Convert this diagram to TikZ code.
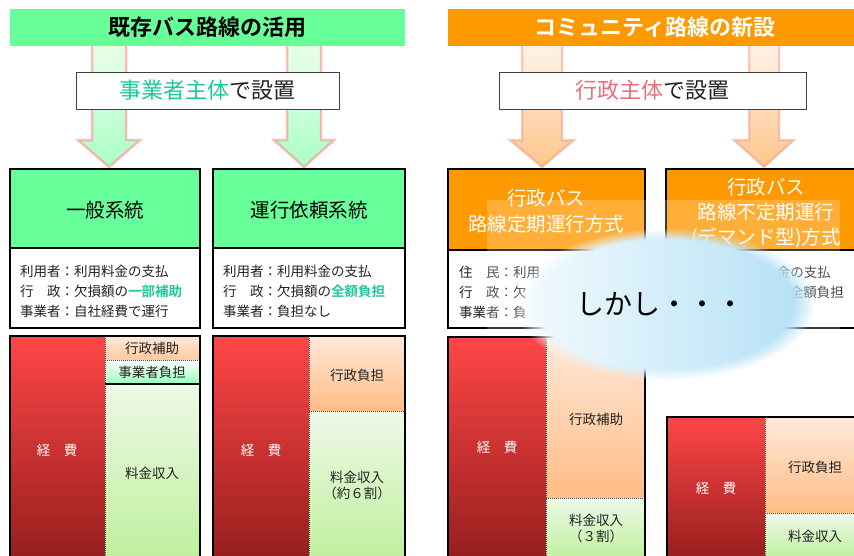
\documentclass[tikz,border=0pt]{standalone}
\usepackage{fontspec}
\setmainfont{Noto Sans CJK JP}[BoldFont={Noto Sans CJK JP Bold}]
\usetikzlibrary{fadings}
\definecolor{hdrgreen}{HTML}{66FF99}
\definecolor{hdrorange}{HTML}{FF9900}
\definecolor{tealtxt}{HTML}{1DC99A}
\definecolor{pinktxt}{HTML}{E8707A}
\definecolor{txtdark}{HTML}{222222}
\definecolor{redtop}{HTML}{FF4646}
\definecolor{redbot}{HTML}{961E1E}
\definecolor{peachtop}{HTML}{FFE9DA}
\definecolor{peachbot}{HTML}{FFBC84}
\definecolor{greentop}{HTML}{EEF9E8}
\definecolor{greenbot}{HTML}{BEF09C}
\definecolor{mintbot}{HTML}{99FFBB}
\definecolor{cloudA}{HTML}{F4FBFE}
\definecolor{cloudB}{HTML}{B2E0F6}
\newcommand\arrowshape[3]{(#1-#2,40) -- (#1-#2,140) -- (#1-#3,140) -- (#1,167) -- (#1+#3,140) -- (#1+#2,140) -- (#1+#2,40) -- cycle}
\begin{document}
\begin{tikzpicture}[x=1pt,y=-1pt,
  hdr/.style={inner sep=0pt, minimum height=37pt, font=\fontsize{22}{24}\selectfont},
  lblbox/.style={draw=black!75, line width=0.8pt, fill=white, minimum height=37pt, inner sep=0pt, font=\fontsize{22}{24}\selectfont, text=txtdark},
  boxtitle/.style={align=center, font=\fontsize{19.5}{26}\selectfont},
  bodyline/.style={anchor=west, inner sep=0pt, font=\fontsize{13.5}{16}\selectfont, text=txtdark},
  bodylineR/.style={bodyline, anchor=east},
  chartlbl/.style={align=center, inner sep=0pt, font=\fontsize{13.5}{16}\selectfont, text=txtdark},
  costlbl/.style={inner sep=0pt, font=\fontsize{13.5}{16}\selectfont, text=white},
  outline/.style={line width=2pt},
  divider/.style={densely dotted, line width=1pt, black!70},
  garrow/.style={top color=green!8, bottom color=hdrgreen!55, draw=red!30!pink, draw opacity=0.55, line width=2.5pt},
  oarrow/.style={top color=orange!8, bottom color=orange!45, draw=red!40!brown!60, draw opacity=0.45, line width=2.5pt}
]
\useasboundingbox (0,0) rectangle (854,555);
\clip (0,0) rectangle (854,555);

% arrows
\path[garrow] \arrowshape{109}{17}{31};
\path[garrow] \arrowshape{304}{17}{30};
\path[oarrow] \arrowshape{542}{20}{32};
\path[oarrow] \arrowshape{764}{15}{30};

% headers
\node[hdr, fill=hdrgreen, minimum width=395pt, text=black] (hdrL) at (207.5,27.5) {\bfseries 既存バス路線の活用};
\node[hdr, fill=hdrorange, minimum width=414pt, text=white] (hdrR) at (655,27.5) {\bfseries コミュニティ路線の新設};

% label boxes
\node[lblbox, minimum width=263pt] (lblL) at (207.5,90.5) {{\color{tealtxt}事業者主体}で設置};
\node[lblbox, minimum width=307pt] (lblR) at (652.5,90.5) {{\color{pinktxt}行政主体}で設置};

% ---------- upper boxes ----------
% box 1
\fill[hdrgreen] (10,169) rectangle (200,248);
\draw[outline] (10,169) rectangle (200,328);
\draw[outline] (10,248) -- (200,248);
\node[boxtitle, text=black] (t1) at (105,210) {一般系統};
\node[bodyline] (l11) at (20,271) {利用者：利用料金の支払};
\node[bodyline] (l12) at (20,291) {行　政：欠損額の{\color{tealtxt}\bfseries 一部補助}};
\node[bodyline] (l13) at (20,311) {事業者：自社経費で運行};

% box 2
\fill[hdrgreen] (213,169) rectangle (405,248);
\draw[outline] (213,169) rectangle (405,328);
\draw[outline] (213,248) -- (405,248);
\node[boxtitle, text=black] (t2) at (309,210) {運行依頼系統};
\node[bodyline] (l21) at (223,271) {利用者：利用料金の支払};
\node[bodyline] (l22) at (223,291) {行　政：欠損額の{\color{tealtxt}\bfseries 全額負担}};
\node[bodyline] (l23) at (223,311) {事業者：負担なし};

% box 3
\fill[hdrorange] (448,169) rectangle (645,250);
\draw[outline] (448,169) rectangle (645,328);
\draw[outline] (448,250) -- (645,250);
\node[boxtitle, text=white] (t3) at (546,211) {行政バス\\路線定期運行方式};
\node[bodyline] (l31) at (459,272) {住　民：利用};
\node[bodyline] (l32) at (459,292) {行　政：欠};
\node[bodyline] (l33) at (459,312) {事業者：負};

% box 4
\fill[hdrorange] (666,169) rectangle (866,250);
\draw[outline] (666,169) rectangle (866,328);
\draw[outline] (666,250) -- (866,250);
\node[boxtitle, text=white, font=\fontsize{19.5}{25}\selectfont] (t4) at (766,213) {行政バス\\路線不定期運行\\(デマンド型)方式};
\node[bodylineR] (l41) at (831,272) {金の支払};
\node[bodylineR] (l42) at (844,292) {全額負担};

% ---------- charts ----------
% chart 1
\shade[top color=redtop, bottom color=redbot] (10,336) rectangle (105,560);
\shade[top color=peachtop, bottom color=peachbot!70!peachtop] (105,336) rectangle (200,360);
\shade[top color=white, bottom color=mintbot] (105,360) rectangle (200,384);
\shade[top color=greentop, bottom color=greenbot] (105,384) rectangle (200,560);
\draw[divider] (105,336) -- (105,560);
\draw[divider] (105,360) -- (200,360);
\draw[outline] (105,384) -- (200,384);
\draw[outline] (10,560) -- (10,336) -- (200,336) -- (200,560);
\node[costlbl] (c1) at (57,450) {経　費};
\node[chartlbl] (g11) at (152,348) {行政補助};
\node[chartlbl] (g12) at (152,372) {事業者負担};
\node[chartlbl] (g13) at (152,473) {料金収入};

% chart 2
\shade[top color=redtop, bottom color=redbot] (213,336) rectangle (309,560);
\shade[top color=peachtop, bottom color=peachbot] (309,336) rectangle (405,411);
\shade[top color=greentop, bottom color=greenbot] (309,411) rectangle (405,560);
\draw[divider] (309,336) -- (309,560);
\draw[divider] (309,411) -- (405,411);
\draw[outline] (213,560) -- (213,336) -- (405,336) -- (405,560);
\node[costlbl] (c2) at (261,450) {経　費};
\node[chartlbl] (g21) at (357,375) {行政負担};
\node[chartlbl] (g22) at (357,485) {料金収入\\（約６割）};

% chart 3
\shade[top color=redtop, bottom color=redbot] (448,337) rectangle (546,560);
\shade[top color=peachtop, bottom color=peachbot] (546,337) rectangle (645,498);
\shade[top color=greentop, bottom color=greenbot] (546,498) rectangle (645,560);
\draw[divider] (546,337) -- (546,560);
\draw[divider] (546,498) -- (645,498);
\draw[outline] (448,560) -- (448,337) -- (645,337) -- (645,560);
\node[costlbl] (c3) at (497,447) {経　費};
\node[chartlbl] (g31) at (596,419) {行政補助};
\node[chartlbl] (g32) at (596,528) {料金収入\\（３割）};

% chart 4
\shade[top color=redtop, bottom color=redbot] (667,417) rectangle (765,560);
\shade[top color=peachtop, bottom color=peachbot] (765,417) rectangle (866,513);
\shade[top color=greentop, bottom color=greenbot] (765,513) rectangle (866,560);
\draw[divider] (765,417) -- (765,560);
\draw[divider] (765,513) -- (866,513);
\draw[outline] (667,560) -- (667,417) -- (866,417);
\node[costlbl] (c4) at (716,488) {経　費};
\node[chartlbl] (g41) at (815,467) {行政負担};
\node[chartlbl] (g42) at (815,536) {料金収入};

% ---------- overlay + cloud ----------
\fill[white, opacity=0.22] (487,200) rectangle (840,333);
\path[left color=cloudA, right color=cloudB, path fading=circle with fuzzy edge 15 percent] (665,304) ellipse (150 and 76);
\node[inner sep=0pt, font=\fontsize{28}{30}\selectfont, text=black] (cloudtxt) at (660,304) {しかし・・・};
\end{tikzpicture}
\end{document}
